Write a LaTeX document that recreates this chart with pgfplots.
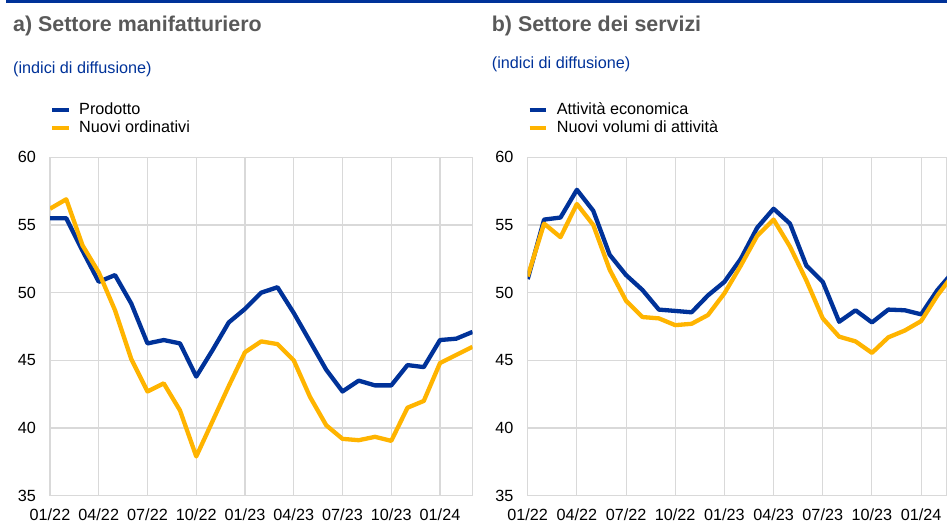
\documentclass[border=0pt]{standalone}
\usepackage{fontspec}
\setmainfont{Liberation Sans}
\usepackage{pgfplots}
\pgfplotsset{compat=1.18}
\definecolor{ecbblue}{RGB}{0,50,153}
\definecolor{ecbyellow}{RGB}{255,180,0}
\definecolor{titlegray}{RGB}{89,89,89}
\definecolor{gridgray}{RGB}{217,217,217}
\newcommand{\fs}{\fontsize{16.2bp}{19bp}\selectfont}

\pgfplotstableread{
i prod ord
0 55.5 56.2
1 55.5 56.9
2 53.1 53.5
3 50.8 51.5
4 51.3 48.7
5 49.2 45.1
6 46.25 42.7
7 46.5 43.3
8 46.25 41.3
9 43.8 37.9
10 45.75 40.5
11 47.8 43.1
12 48.8 45.6
13 50.0 46.4
14 50.4 46.2
15 48.5 45.0
16 46.4 42.3
17 44.3 40.2
18 42.7 39.2
19 43.5 39.1
20 43.15 39.35
21 43.15 39.05
22 44.65 41.5
23 44.5 42.0
24 46.5 44.8
25 46.6 45.4
26 47.1 46.0
}\manuf

\pgfplotstableread{
i att vol
0 51.0 51.2
1 55.4 55.1
2 55.55 54.1
3 57.6 56.55
4 56.05 55.0
5 52.8 51.7
6 51.3 49.4
7 50.2 48.2
8 48.75 48.1
9 48.65 47.6
10 48.55 47.7
11 49.8 48.35
12 50.8 49.95
13 52.5 52.0
14 54.8 54.2
15 56.2 55.4
16 55.1 53.4
17 52.0 50.9
18 50.8 48.1
19 47.85 46.75
20 48.7 46.4
21 47.8 45.55
22 48.75 46.7
23 48.7 47.2
24 48.4 47.9
25 50.2 49.8
26 51.6 51.4
}\serv

\pgfplotsset{
  panel/.style={
    scale only axis,
    height=338.4bp,
    ymin=35, ymax=60, ytick={35,40,...,60},
    xmin=0,
    enlargelimits=false,
    xtick={0,3,...,24},
    xticklabels={01/22,04/22,07/22,10/22,01/23,04/23,07/23,10/23,01/24},
    grid=major,
    grid style={gridgray, line width=1.1bp},
    axis line style={gridgray, line width=1.1bp},
    major tick length=0pt,
    /pgf/number format/assume math mode=true,
    tick label style={font=\fs, inner sep=0pt, text=black},
    yticklabel style={xshift=-14bp},
    xticklabel style={yshift=-12.5bp},
    legend style={at={(axis description cs:0,1.1622)}, anchor=north west,
      draw=none, fill=none, inner sep=0pt, outer sep=0pt, row sep=2.4bp,
      font=\fs,
      nodes={inner sep=0pt, text height=11.9bp, text depth=3.4bp},
      /tikz/every odd column/.append style={column sep=8.5bp}},
    legend cell align=left,
    legend image code/.code={\draw[#1, line width=4bp] (0bp,0bp) -- (16.7bp,0bp);},
    every axis plot/.append style={line width=4.3bp, line join=round},
  }
}

\begin{document}
\begin{tikzpicture}
\useasboundingbox (0,0) rectangle (947bp,-525bp);
\fill[ecbblue] (6bp,0bp) rectangle (947bp,-2.7bp);
\node[anchor=base west, inner sep=0pt, text=titlegray, font=\fontsize{21.4bp}{25bp}\selectfont\bfseries] at (13bp,-31bp) {a) Settore manifatturiero};
\node[anchor=base west, inner sep=0pt, text=titlegray, font=\fontsize{21.4bp}{25bp}\selectfont\bfseries] at (491.7bp,-31bp) {b) Settore dei servizi};
\node[anchor=base west, inner sep=0pt, text=ecbblue, font=\fs] at (13bp,-73bp) {(indici di diffusione)};
\node[anchor=base west, inner sep=0pt, text=ecbblue, font=\fs] at (491.7bp,-68.5bp) {(indici di diffusione)};

\begin{axis}[panel, at={(50bp,-495.7bp)}, anchor=south west, width=422.5bp, xmax=26]
\addplot[ecbblue] table[x=i, y=prod] {\manuf};
\addlegendentry{Prodotto}
\addplot[ecbyellow] table[x=i, y=ord] {\manuf};
\addlegendentry{Nuovi ordinativi}
\end{axis}

\begin{axis}[panel, at={(527.7bp,-495.7bp)}, anchor=south west, width=419.3bp, xmax=25.58]
\addplot[ecbblue] table[x=i, y=att] {\serv};
\addlegendentry{Attività economica}
\addplot[ecbyellow] table[x=i, y=vol] {\serv};
\addlegendentry{Nuovi volumi di attività}
\end{axis}
\end{tikzpicture}
\end{document}
